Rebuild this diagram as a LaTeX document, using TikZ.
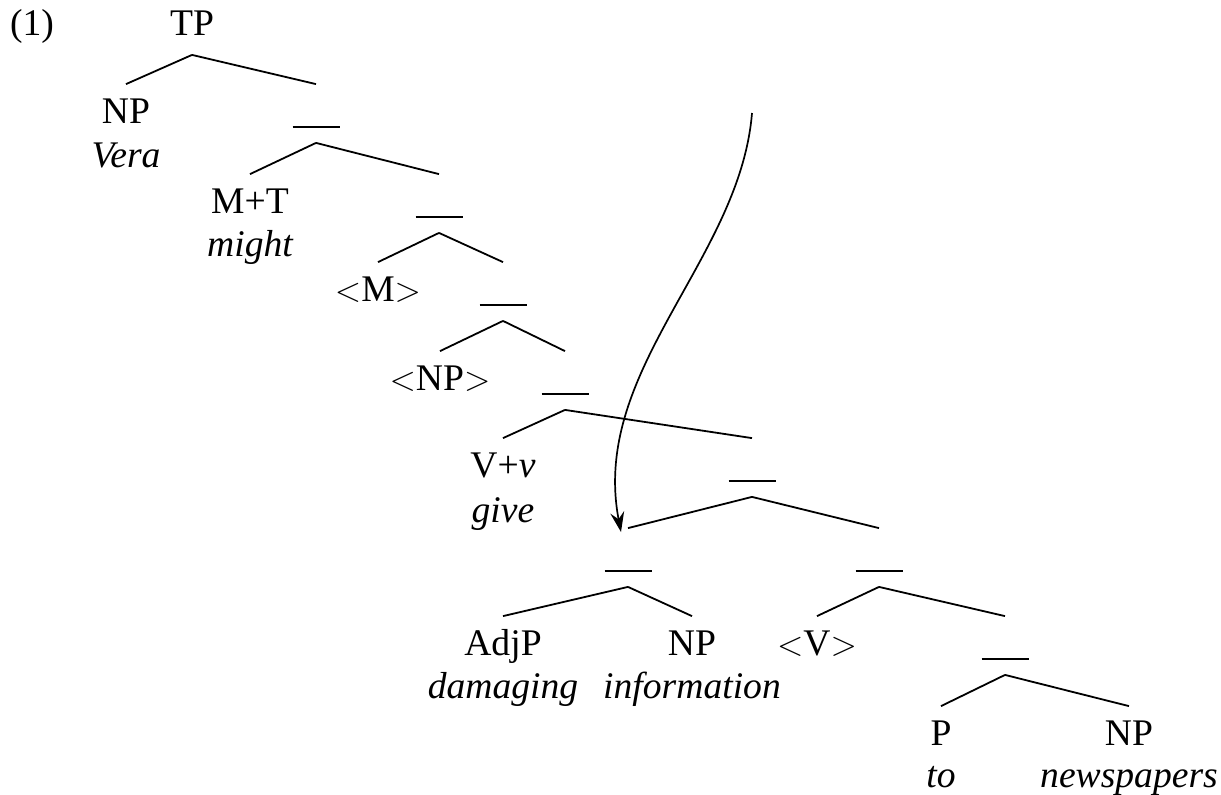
\documentclass[tikz,border=0pt]{standalone}
\usepackage{fontspec}
\setmainfont{Liberation Serif}
\usetikzlibrary{arrows.meta}

\tikzset{
  cat/.style={anchor=base,inner xsep=0pt,inner ysep=6.5pt,text height=12.5pt,text depth=3pt,font=\fontsize{18.8}{22}\selectfont},
  lex/.style={anchor=base,inner sep=0pt,font=\fontsize{18.8}{22}\selectfont\itshape}
}
\newcommand{\blankbar}{\rule[-2.4pt]{23.5pt}{0.9pt}}

\begin{document}
\begin{tikzpicture}[x=0.5pt,y=-0.5pt,line width=0.9pt]
\useasboundingbox (0,0) rectangle (1221,794);

\node[cat] (exno) at (32,35) {(1)};
\node[cat] (tp) at (192,35) {TP};

\node[cat] (np1) at (126,123) {NP};
\node[lex] (vera) at (126,167) {Vera};
\node[cat] (b1) at (316,123) {\blankbar};

\node[cat] (mt) at (250,213) {M+T};
\node[lex] (might) at (250,256) {might};
\node[cat] (b2) at (439,213) {\blankbar};

\node[cat] (mtrace) at (378,301) {$<$M$>$};
\node[cat] (b3) at (503,301) {\blankbar};

\node[cat] (nptrace) at (440,390) {$<$NP$>$};
\node[cat] (b4) at (565,390) {\blankbar};

\node[cat] (vv) at (503,477) {V+\textit{v}};
\node[lex] (give) at (503,522) {give};
\node[cat] (b5) at (752,477) {\blankbar};

\node[cat] (b6) at (628,567) {\blankbar};
\node[cat] (b7) at (879,567) {\blankbar};

\node[cat] (adjp) at (503,655) {AdjP};
\node[lex] (damaging) at (503,698) {damaging};
\node[cat] (np2) at (692,655) {NP};
\node[lex] (information) at (692,698) {information};
\node[cat] (vtrace) at (817,655) {$<$V$>$};
\node[cat] (b8) at (1005,655) {\blankbar};

\node[cat] (p) at (941,745) {P};
\node[lex] (to) at (941,787) {to};
\node[cat] (np3) at (1129,745) {NP};
\node[lex] (newspapers) at (1129,787) {newspapers};

\draw (tp.south)--(np1.north);
\draw (tp.south)--(b1.north);
\draw (b1.south)--(mt.north);
\draw (b1.south)--(b2.north);
\draw (b2.south)--(mtrace.north);
\draw (b2.south)--(b3.north);
\draw (b3.south)--(nptrace.north);
\draw (b3.south)--(b4.north);
\draw (b4.south)--(vv.north);
\draw (b4.south)--(b5.north);
\draw (b5.south)--(b6.north);
\draw (b5.south)--(b7.north);
\draw (b6.south)--(adjp.north);
\draw (b6.south)--(np2.north);
\draw (b7.south)--(vtrace.north);
\draw (b7.south)--(b8.north);
\draw (b8.south)--(p.north);
\draw (b8.south)--(np3.north);

% movement arrow
\coordinate (mvstart) at (752,113);
\coordinate (mvend) at (621,532);
\draw[line width=0.85pt,-{Stealth[length=10pt,width=7pt,inset=3.5pt]}] (mvstart) .. controls (740,260) and (590,370) .. (mvend);

\end{tikzpicture}
\end{document}
